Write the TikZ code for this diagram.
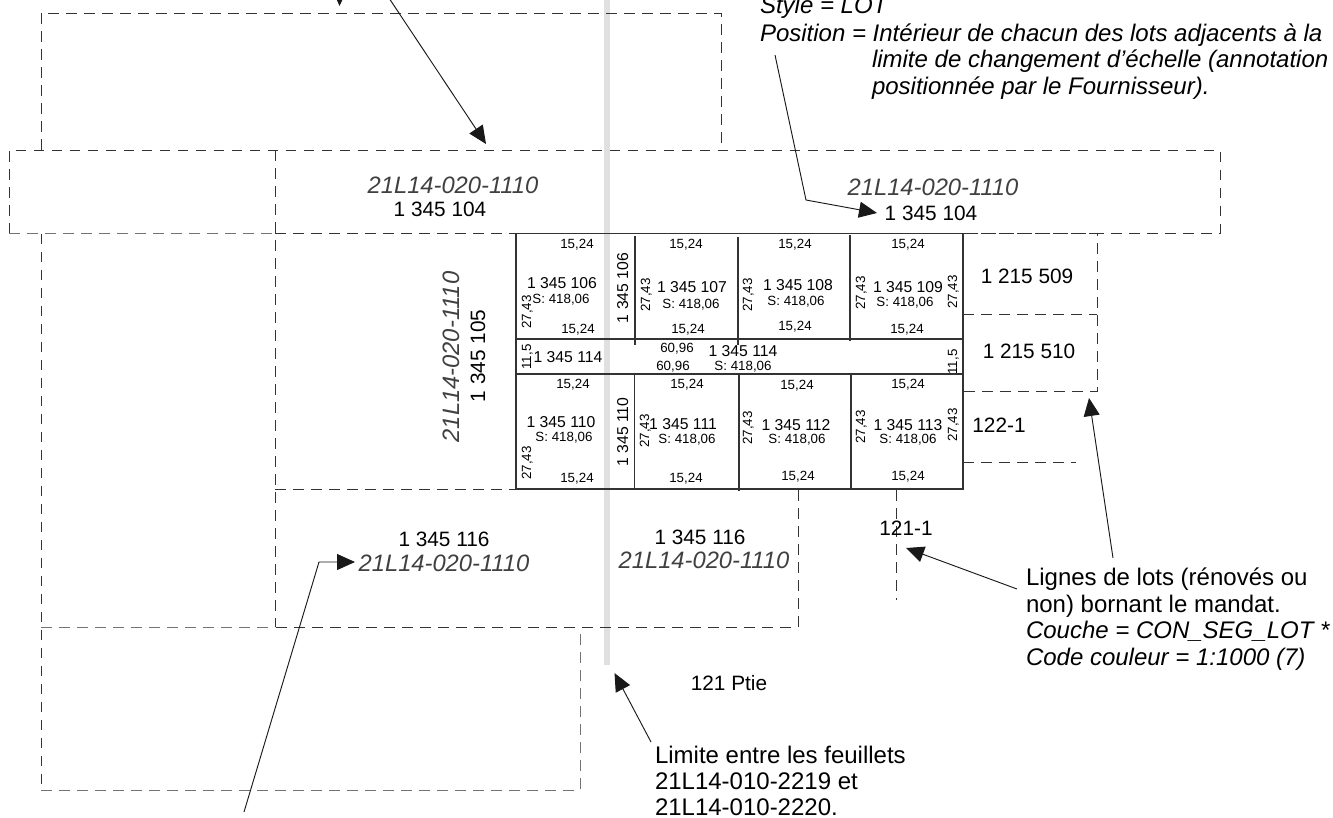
\documentclass[tikz,border=0pt]{standalone}
\usepackage{fontspec}
\setmainfont{Liberation Sans}
\usetikzlibrary{arrows.meta}
\definecolor{lotgrey}{HTML}{404040}
\definecolor{bandgrey}{HTML}{E0E0E0}
\tikzset{
  lotdash/.style={draw=black!80,line width=0.6pt,dash pattern=on 8pt off 5.5pt},
  lotdashlight/.style={draw=black!55,line width=0.75pt,dash pattern=on 8pt off 5.5pt},
  gridline/.style={draw=black!80,line width=0.95pt},
  band/.style={fill=bandgrey,draw=none},
  leader/.style={draw=black!90,line width=0.7pt,-{Triangle[length=13.5pt,width=12pt]}},
  txt/.style={inner sep=0pt,outer sep=0pt,anchor=base},
  lefttxt/.style={inner sep=0pt,outer sep=0pt,anchor=base west},
  tiny/.style={txt,font=\fontsize{10}{12}\selectfont},
  mid/.style={txt,font=\fontsize{11.8}{14}\selectfont},
  big/.style={txt,font=\fontsize{15.6}{18}\selectfont},
  note/.style={lefttxt,font=\fontsize{18}{21}\selectfont},
  notei/.style={lefttxt,font=\fontsize{18}{21}\selectfont\itshape},
  sheet/.style={txt,font=\fontsize{17.8}{20}\selectfont\itshape,text=lotgrey},
}
\begin{document}
\begin{tikzpicture}[x=0.75pt,y=-0.75pt]
\useasboundingbox (0,0) rectangle (1333,817);
\clip (0,0) rectangle (1333,817);
% sheet limit
\fill[band] (604,-5) rectangle (610,665);
% dashed lot lines
\draw[lotdash] (41,150) -- (41,13) -- (721,13) -- (721,150);
\draw[lotdash] (9,233.5) -- (9,150) -- (1220,150) -- (1220,233.5) -- (963,233.5);
\draw[lotdashlight] (9,233.5) -- (275,233.5);
\draw[lotdash] (275,233.5) -- (515,233.5);
\draw[lotdash] (275.5,150) -- (275.5,627);
\draw[lotdash] (275,489) -- (515,489);
\draw[lotdash] (963,233) -- (1097,233) -- (1097,391) -- (963,391);
\draw[lotdash] (963,314) -- (1097,314);
\draw[lotdash] (963,462) -- (1076,462);
\draw[lotdash] (896,490) -- (896,600);
\draw[lotdash] (798,490) -- (798,627) -- (275,627);
\draw[lotdash] (41.5,233.5) -- (41.5,790);
\draw[lotdashlight] (41,627.5) -- (275,627.5);
\draw[lotdashlight] (41,790) -- (580,790) -- (580,627.5);
% surveyed block
\draw[gridline] (516,233.5) rectangle (963,489);
\draw[gridline] (516,339) -- (963,339);
\draw[gridline] (516,374) -- (963,374);
\draw[gridline] (635,236) -- (635,345);
\draw[gridline] (738,237) -- (738,345);
\draw[gridline] (850,235) -- (850,341);
\draw[gridline] (634.5,374) -- (634.5,489);
\draw[gridline] (739,374) -- (739,491);
\draw[gridline] (851,374) -- (851,489);
% small measures
\foreach \x/\y/\t [count=\i] in {
  577/248/{15,24}, 578/333/{15,24}, 686/248/{15,24}, 688/333/{15,24},
  795/248/{15,24}, 795/330/{15,24}, 908/248/{15,24}, 907/333/{15,24},
  573/388/{15,24}, 577/482/{15,24}, 687/388/{15,24}, 686/482/{15,24},
  797/389/{15,24}, 798/480/{15,24}, 908/388/{15,24}, 908/480/{15,24},
  677/352/{60,96}, 673/370/{60,96},
  561/303/{S: 418,06}, 691/308/{S: 418,06}, 796/305/{S: 418,06}, 905/306/{S: 418,06},
  743/370/{S: 418,06}, 564/441/{S: 418,06}, 687/443/{S: 418,06}, 797/443/{S: 418,06}, 908/443/{S: 418,06}}
  {\node[tiny] (m\i) at (\x,\y) {\t};}
\foreach \x/\y/\t [count=\i] in {
  531/312/{27,43}, 650/295/{27,43}, 752/295/{27,43}, 865/293/{27,43}, 957/292/{27,43},
  531/463/{27,43}, 649/431/{27,43}, 752/428/{27,43}, 865/427/{27,43}, 957/425/{27,43},
  531/357/{11,5}, 957/362/{11,5}}
  {\node[tiny,rotate=90] (r\i) at (\x,\y) {\t};}
% block lot numbers
\foreach \x/\y/\t [count=\i] in {
  562/288/{1 345 106}, 692/292/{1 345 107}, 798/290/{1 345 108}, 908/292/{1 345 109},
  568/362/{1 345 114}, 743/356/{1 345 114},
  561/427/{1 345 110}, 683/429/{1 345 111}, 796/430/{1 345 112}, 908/430/{1 345 113}}
  {\node[mid] (n\i) at (\x,\y) {\t};}
\node[mid,rotate=90] (v1) at (628,288) {1 345 106};
\node[mid,rotate=90] (v2) at (628,432) {1 345 110};
% surrounding lots
\node[big] (a1) at (440,216) {1 345 104};
\node[big] (a2) at (931,220) {1 345 104};
\node[big,rotate=90] (a3) at (485,356) {1 345 105};
\node[big] (a4) at (1027,283) {1 215 509};
\node[big] (a5) at (1029,358) {1 215 510};
\node[big] (a6) at (999,432) {122-1};
\node[big] (a7) at (906,535) {121-1};
\node[big] (a8) at (444,546) {1 345 116};
\node[big] (a9) at (700,544) {1 345 116};
\node[big] (a10) at (729,690) {121 Ptie};
% sheet labels
\node[sheet] (b1) at (453,193) {21L14-020-1110};
\node[sheet] (b2) at (933,195) {21L14-020-1110};
\node[sheet,rotate=90] (b3) at (459,357) {21L14-020-1110};
\node[sheet] (b4) at (444,571) {21L14-020-1110};
\node[sheet] (b5) at (704,568) {21L14-020-1110};
% annotations
\node[notei] (c1) at (760,14) {Style = LOT};
\node[notei] (c2) at (760,41.5) {Position = Intérieur de chacun des lots adjacents à la};
\node[notei] (c3) at (872,68) {limite de changement d'échelle (annotation};
\node[notei] (c4) at (872,94) {positionnée par le Fournisseur).};
\node[note] (d1) at (1026,585) {Lignes de lots (rénovés ou};
\node[note] (d2) at (1026,612) {non) bornant le mandat.};
\node[notei] (d3) at (1026,638) {Couche = CON\_SEG\_LOT *};
\node[notei] (d4) at (1026,665) {Code couleur = 1:1000 (7)};
\node[note] (e1) at (655,763) {Limite entre les feuillets};
\node[note] (e2) at (655,789) {21L14-010-2219 et};
\node[note] (e3) at (655,815) {21L14-010-2220.};
% leaders
\coordinate (k0s) at (340,-25); \coordinate (k0e) at (339.5,6);
\coordinate (k1s) at (377,-20); \coordinate (k1e) at (486,144);
\coordinate (k2s) at (775,55); \coordinate (k2b) at (806,200); \coordinate (k2e) at (877,213);
\coordinate (k3s) at (244,812); \coordinate (k3b) at (319,562); \coordinate (k3e) at (355,562);
\coordinate (k4s) at (1113,558); \coordinate (k4e) at (1089,398);
\coordinate (k5s) at (1017,589); \coordinate (k5e) at (906,548);
\coordinate (k6s) at (651,742); \coordinate (k6e) at (614.5,673);
\draw[leader] (k0s) -- (k0e);
\draw[leader] (k1s) -- (k1e);
\draw[leader] (k2s) -- (k2b) -- (k2e);
\draw[leader] (k3s) -- (k3b) -- (k3e);
\draw[leader] (k4s) -- (k4e);
\draw[leader] (k5s) -- (k5e);
\draw[leader] (k6s) -- (k6e);
\end{tikzpicture}
\end{document}
